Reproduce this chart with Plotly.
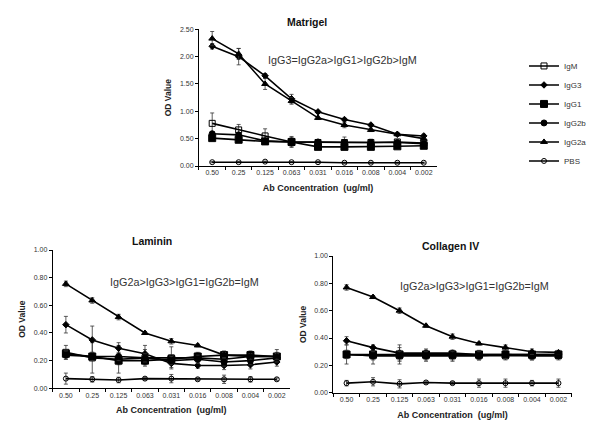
import plotly.graph_objects as go

conc = ["0.50", "0.25", "0.125", "0.063", "0.031", "0.016", "0.008", "0.004", "0.002"]
series_names = ["IgM", "IgG3", "IgG1", "IgG2b", "IgG2a", "PBS"]

# Matrigel
mat_IgM   = [0.78, 0.66, 0.55, 0.44, 0.43, 0.43, 0.43, 0.44, 0.42]
mat_IgG3  = [2.19, 2.00, 1.65, 1.23, 0.99, 0.85, 0.75, 0.58, 0.55]
mat_IgG1  = [0.51, 0.48, 0.45, 0.44, 0.35, 0.35, 0.35, 0.36, 0.37]
mat_IgG2b = [0.59, 0.57, 0.46, 0.44, 0.44, 0.43, 0.43, 0.43, 0.41]
mat_IgG2a = [2.33, 2.05, 1.50, 1.19, 0.88, 0.75, 0.66, 0.58, 0.50]
mat_PBS   = [0.07, 0.07, 0.08, 0.07, 0.07, 0.06, 0.06, 0.06, 0.06]
mat_err = {
    "IgM":   [0.19, 0.10, 0.13, 0.10, 0.03, 0.10, 0.06, 0.03, 0.03],
    "IgG3":  [0.05, 0.15, 0.04, 0.08, 0.02, 0.02, 0.02, 0.02, 0.03],
    "IgG1":  [0.03, 0.03, 0.03, 0.08, 0.03, 0.03, 0.03, 0.03, 0.03],
    "IgG2b": [0.03, 0.03, 0.03, 0.03, 0.03, 0.03, 0.03, 0.03, 0.03],
    "IgG2a": [0.13, 0.10, 0.10, 0.06, 0.03, 0.05, 0.03, 0.03, 0.03],
    "PBS":   [0.01, 0.01, 0.01, 0.01, 0.01, 0.01, 0.01, 0.01, 0.01],
}

# Laminin
lam_IgM   = [0.26, 0.22, 0.21, 0.22, 0.22, 0.22, 0.21, 0.23, 0.23]
lam_IgG3  = [0.46, 0.35, 0.29, 0.25, 0.18, 0.165, 0.165, 0.17, 0.19]
lam_IgG1  = [0.25, 0.23, 0.20, 0.20, 0.21, 0.23, 0.24, 0.24, 0.23]
lam_IgG2b = [0.24, 0.23, 0.23, 0.22, 0.20, 0.21, 0.19, 0.20, 0.22]
lam_IgG2a = [0.755, 0.635, 0.515, 0.40, 0.34, 0.31, 0.24, 0.23, 0.23]
lam_PBS   = [0.07, 0.065, 0.06, 0.07, 0.07, 0.065, 0.065, 0.065, 0.065]
lam_err = {
    "IgM":   [0.05, 0.11, 0.10, 0.06, 0.08, 0.03, 0.04, 0.03, 0.05],
    "IgG3":  [0.06, 0.10, 0.04, 0.06, 0.03, 0.02, 0.03, 0.03, 0.03],
    "IgG1":  [0.03, 0.03, 0.03, 0.03, 0.03, 0.03, 0.03, 0.03, 0.03],
    "IgG2b": [0.03, 0.03, 0.03, 0.03, 0.03, 0.03, 0.03, 0.03, 0.03],
    "IgG2a": [0.02, 0.02, 0.02, 0.01, 0.02, 0.01, 0.02, 0.02, 0.02],
    "PBS":   [0.04, 0.02, 0.02, 0.01, 0.03, 0.01, 0.03, 0.02, 0.01],
}

# Collagen IV
col_IgM   = [0.28, 0.27, 0.27, 0.27, 0.27, 0.27, 0.27, 0.27, 0.27]
col_IgG3  = [0.38, 0.33, 0.29, 0.29, 0.29, 0.28, 0.28, 0.28, 0.28]
col_IgG1  = [0.28, 0.28, 0.28, 0.28, 0.28, 0.28, 0.28, 0.28, 0.28]
col_IgG2b = [0.28, 0.27, 0.27, 0.27, 0.27, 0.27, 0.28, 0.27, 0.27]
col_IgG2a = [0.77, 0.70, 0.60, 0.49, 0.41, 0.36, 0.33, 0.30, 0.295]
col_PBS   = [0.07, 0.08, 0.065, 0.075, 0.07, 0.07, 0.07, 0.07, 0.07]
col_err = {
    "IgM":   [0.07, 0.06, 0.06, 0.04, 0.04, 0.03, 0.03, 0.03, 0.02],
    "IgG3":  [0.03, 0.02, 0.06, 0.03, 0.02, 0.02, 0.03, 0.02, 0.02],
    "IgG1":  [0.03, 0.03, 0.03, 0.03, 0.03, 0.03, 0.03, 0.03, 0.03],
    "IgG2b": [0.03, 0.03, 0.03, 0.03, 0.03, 0.03, 0.03, 0.03, 0.03],
    "IgG2a": [0.02, 0.01, 0.02, 0.01, 0.02, 0.01, 0.02, 0.02, 0.01],
    "PBS":   [0.02, 0.03, 0.03, 0.01, 0.01, 0.03, 0.03, 0.02, 0.03],
}

symbols = {"IgM": "square-open", "IgG3": "diamond", "IgG1": "square",
           "IgG2b": "circle", "IgG2a": "triangle-up", "PBS": "circle-open"}
sizes = {"IgM": 6, "IgG3": 5, "IgG1": 7, "IgG2b": 6, "IgG2a": 6, "PBS": 5}

panels = [
    ("Matrigel", [mat_IgM, mat_IgG3, mat_IgG1, mat_IgG2b, mat_IgG2a, mat_PBS], mat_err,
     "x", "y", [0, 2.5], 0.5, "IgG3=IgG2a>IgG1>IgG2b>IgM"),
    ("Laminin", [lam_IgM, lam_IgG3, lam_IgG1, lam_IgG2b, lam_IgG2a, lam_PBS], lam_err,
     "x2", "y2", [0, 1.0], 0.2, "IgG2a>IgG3>IgG1=IgG2b=IgM"),
    ("Collagen IV", [col_IgM, col_IgG3, col_IgG1, col_IgG2b, col_IgG2a, col_PBS], col_err,
     "x3", "y3", [0, 1.0], 0.2, "IgG2a>IgG3>IgG1=IgG2b=IgM"),
]

fig = go.Figure()
for pi, (title, vals, errs, xa, ya, yr, dt, note) in enumerate(panels):
    for name, v in zip(series_names, vals):
        fig.add_trace(go.Scatter(
            x=conc, y=v, name=name, xaxis=xa, yaxis=ya,
            mode="lines+markers",
            line=dict(color="black", width=1.6),
            marker=dict(symbol=symbols[name], size=sizes[name], color="black",
                        line=dict(color="black", width=1)),
            error_y=dict(type="data", array=errs[name], visible=True,
                         color="#333333", thickness=0.8, width=2),
            showlegend=(pi == 0),
        ))

font_main = "Liberation Sans, Arial, sans-serif"
axis_common = dict(showline=True, linecolor="black", linewidth=1, showgrid=False,
                   zeroline=False, ticks="outside", ticklen=3, tickcolor="black",
                   automargin=False,
                   tickfont=dict(size=7, color="#333333", family=font_main))

# page has an 8px body margin: domains computed from target pixels minus 8
domains = [
    ([0.3183, 0.7150], [0.6291, 0.9500]),
    ([0.0745, 0.4700], [0.1073, 0.4319]),
    ([0.5422, 0.9395], [0.0969, 0.4178]),
]

layout = dict(
    width=600, height=426,
    margin=dict(l=0, r=0, t=0, b=0),
    paper_bgcolor="white", plot_bgcolor="white",
    font=dict(family=font_main, color="black"),
    legend=dict(x=0.86, y=0.898, xanchor="left", yanchor="top",
                font=dict(size=8, color="#333333"), itemwidth=30,
                tracegroupgap=0, bgcolor="rgba(0,0,0,0)"),
)
annotations = []
title_pos = [(0.452, 0.995), (0.417, 1.004), (0.492, 1.013)]
note_pos = [(0.601, 0.775), (0.555, 0.771), (0.594, 0.78)]
for i, (title, vals, errs, xa, ya, yr, dt, note) in enumerate(panels):
    sfx = "" if i == 0 else str(i + 1)
    xd, yd = domains[i]
    layout["xaxis" + sfx] = dict(axis_common, domain=xd, anchor="y" + sfx,
                                 type="category", range=[-0.5, 8.5], tickson="boundaries",
                                 tickangle=0,
                                 title=dict(text="<b>Ab Concentration  (ug/ml)</b>",
                                            font=dict(size=9, color="#222222"), standoff=9))
    layout["yaxis" + sfx] = dict(axis_common, domain=yd, anchor="x" + sfx,
                                 range=yr, dtick=dt, tickformat=".2f",
                                 title=dict(text="<b>OD Value</b>",
                                            font=dict(size=8.5, color="#222222"), standoff=6))
    annotations.append(dict(text="<b>" + title + "</b>", xref="x" + sfx + " domain",
                            yref="y" + sfx + " domain", x=title_pos[i][0],
                            y=title_pos[i][1], xanchor="center", yanchor="bottom",
                            showarrow=False, font=dict(size=10.5, color="#111111")))
    annotations.append(dict(text=note, xref="x" + sfx + " domain", yref="y" + sfx + " domain",
                            x=note_pos[i][0], y=note_pos[i][1], xanchor="center", yanchor="middle",
                            showarrow=False, font=dict(size=10.8, color="#333333")))
layout["annotations"] = annotations
fig.update_layout(**layout)
fig.write_html("out.html")
